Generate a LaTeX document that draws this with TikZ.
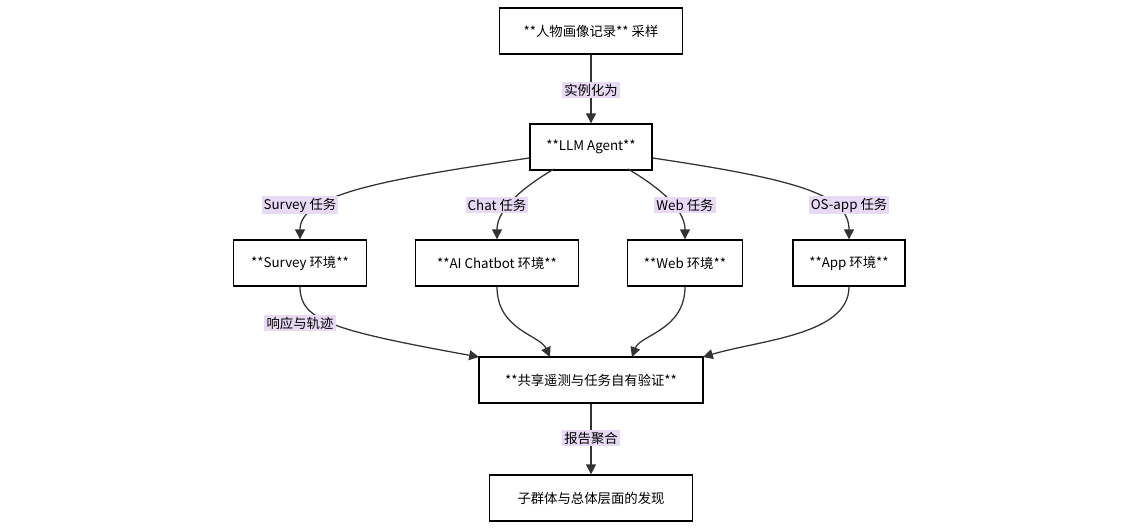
\documentclass[tikz,border=0pt]{standalone}
\usepackage{fontspec}
\setmainfont{Noto Sans CJK SC}
\usetikzlibrary{arrows.meta}
\definecolor{lblbg}{HTML}{E8DAF5}
\definecolor{edge}{HTML}{333333}
\begin{document}
\begin{tikzpicture}[x=0.025cm, y=-0.025cm,
  box/.style={draw=black, line width=1pt, fill=white, minimum height=1.15cm, inner xsep=8pt, font=\fontsize{9.5pt}{11pt}\selectfont},
  lbl/.style={fill=lblbg, inner sep=1.5pt, font=\fontsize{9.5pt}{11pt}\selectfont},
  arr/.style={draw=edge, line width=0.9pt, -{Triangle[length=7pt,width=7pt]}}]
  \useasboundingbox (0,0) rectangle (1140,528);
  \node[box, minimum width=4.58cm] (sample) at (591,31) {**人物画像记录** 采样};
  \node[box, minimum width=3.05cm] (agent) at (591,147) {**LLM Agent**};
  \node[box, minimum width=3.33cm] (survey) at (300,263) {**Survey 环境**};
  \node[box, minimum width=4.08cm] (chatbot) at (497,263) {**AI Chatbot 环境**};
  \node[box, minimum width=2.88cm] (web) at (685,263) {**Web 环境**};
  \node[box, minimum width=2.8cm] (app) at (849,263) {**App 环境**};
  \node[box, minimum width=5.6cm] (shared) at (591,380) {**共享遥测与任务自有验证**};
  \node[box, minimum width=5.08cm] (result) at (591,498) {子群体与总体层面的发现};

  \draw[arr] (sample) -- (agent);
  \draw[arr] (agent.west |- 0,158) .. controls (380,180) and (300,195) .. (survey.north);
  \draw[arr] (554,169) .. controls (510,195) and (497,215) .. (chatbot.north);
  \draw[arr] (628,169) .. controls (672,195) and (685,215) .. (web.north);
  \draw[arr] (agent.east |- 0,158) .. controls (800,180) and (849,195) .. (app.north);
  \draw[arr] (survey.south) .. controls (300,320) and (330,330) .. (479,357);
  \draw[arr] (chatbot.south) .. controls (497,330) and (540,335) .. (550,357);
  \draw[arr] (web.south) .. controls (685,330) and (640,335) .. (632,357);
  \draw[arr] (app.south) .. controls (849,335) and (760,340) .. (703,357);
  \draw[arr] (shared) -- (result);

  \node[lbl] (l1) at (591,90) {实例化为};
  \node[lbl] (l2) at (300,205) {Survey 任务};
  \node[lbl] (l3) at (497,205) {Chat 任务};
  \node[lbl] (l4) at (685,205) {Web 任务};
  \node[lbl] (l5) at (849,205) {OS-app 任务};
  \node[lbl] (l6) at (300,323) {响应与轨迹};
  \node[lbl] (l7) at (591,438) {报告聚合};
\end{tikzpicture}
\end{document}
